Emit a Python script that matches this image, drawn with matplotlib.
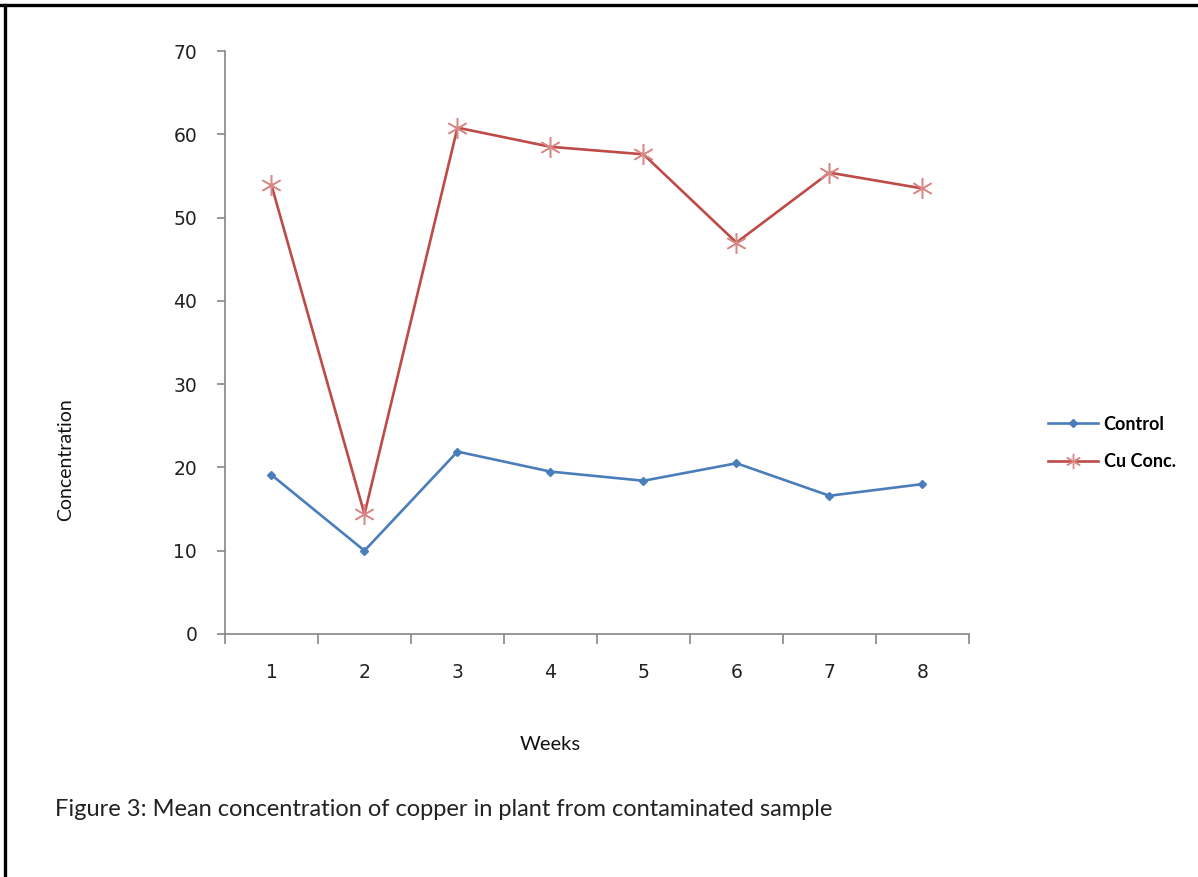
import matplotlib.pyplot as plt
from matplotlib.lines import Line2D
from matplotlib.ticker import FixedLocator

weeks = [1, 2, 3, 4, 5, 6, 7, 8]
control = [19.1, 10.0, 21.9, 19.5, 18.4, 20.5, 16.6, 18.0]
cu_conc = [53.9, 14.4, 60.8, 58.5, 57.6, 47.0, 55.4, 53.5]
y_ticks = [0, 10, 20, 30, 40, 50, 60, 70]

BLUE = "#4a7ebb"
RED = "#be4b48"
AXIS_GREY = "#868686"

fig = plt.figure(figsize=(11.98, 8.77), dpi=100)
ax = fig.add_axes([0.1878, 0.2771, 0.6210, 0.6647])

ax.plot(weeks, control, color=BLUE, lw=1.9, marker="D", ms=4.5,
        mfc=BLUE, mec=BLUE, label="Control")
ax.plot(weeks, cu_conc, color=RED, lw=1.9, marker=(6, 2, 0), ms=15,
        mec="#d98886", mew=1.1, label="Cu Conc.")

ax.set_xlim(0.5, 8.5)
ax.set_ylim(0, 70)

# category axis: labels at the centres, tick marks between categories
ax.set_xticks(weeks)
ax.set_xticklabels([str(w) for w in weeks])
ax.xaxis.set_minor_locator(FixedLocator([w + 0.5 for w in [0] + weeks]))
ax.tick_params(axis="x", which="major", length=0, pad=21, labelsize=13.5,
               colors="#222222")
ax.tick_params(axis="x", which="minor", length=7, width=1.2, color=AXIS_GREY)
ax.set_yticks(y_ticks)
ax.tick_params(axis="y", length=6, width=1.2, color=AXIS_GREY, pad=14,
               labelsize=13.5, labelcolor="#222222")

for side in ("top", "right"):
    ax.spines[side].set_visible(False)
for side in ("left", "bottom"):
    ax.spines[side].set_color(AXIS_GREY)
    ax.spines[side].set_linewidth(1.2)

fig.text(66 / 1198, 1 - 460 / 877, "Concentration", rotation=90,
         ha="center", va="center", fontsize=14, family="Lato", color="#111111")
fig.text(550 / 1198, 1 - 744 / 877, "Weeks", ha="center", va="center",
         fontsize=14.5, family="Lato", color="#111111")
fig.text(55 / 1198, 1 - 810 / 877,
         "Figure 3: Mean concentration of copper in plant from contaminated sample",
         ha="left", va="center", fontsize=17, family="Lato", color="#222222")

handles = [
    Line2D([], [], color=BLUE, lw=1.9, marker="D", ms=4, mec=BLUE),
    Line2D([], [], color=RED, lw=1.9, marker=(6, 2, 0), ms=11,
           mec="#d98886", mew=1.0),
]
fig.legend(handles, ["Control", "Cu Conc."], loc="center left",
           bbox_to_anchor=(1048 / 1198, 1 - 443 / 877), frameon=False,
           handlelength=2.75, handletextpad=0.33, labelspacing=1.15,
           borderpad=0, borderaxespad=0,
           prop={"family": "Lato", "size": 13, "weight": "bold"})

# outer frame on the top and left edges
fig.add_artist(Line2D([0, 1], [1 - 5 / 877, 1 - 5 / 877], color="black",
                      lw=2.4, transform=fig.transFigure))
fig.add_artist(Line2D([4.5 / 1198, 4.5 / 1198], [0, 1 - 5 / 877], color="black",
                      lw=2.4, transform=fig.transFigure))

fig.savefig("out.png", dpi=100)
